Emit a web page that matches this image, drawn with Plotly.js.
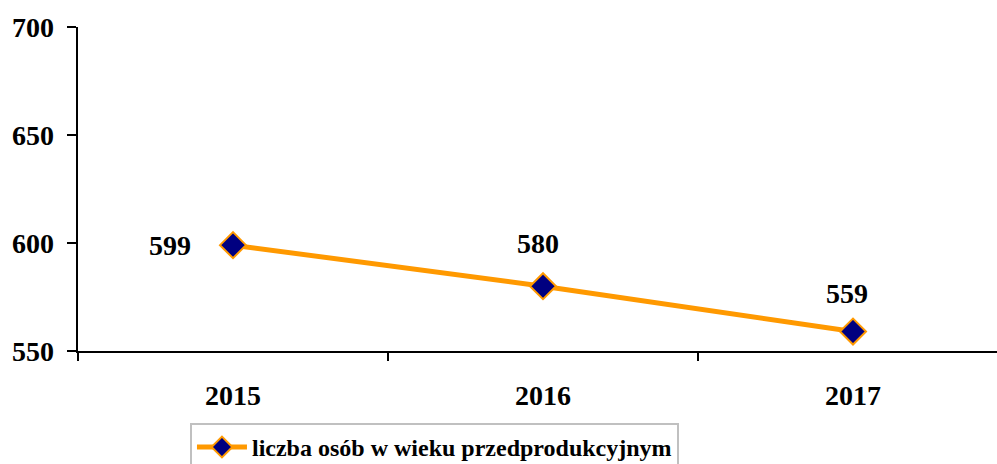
<!DOCTYPE html>
<html>
<head>
<meta charset="utf-8">
<script src="https://cdn.plot.ly/plotly-3.0.1.min.js"></script>
<style>html,body{margin:0;padding:0;overflow:hidden;background:#fff;}</style>
</head>
<body>
<div id="chart"></div>
<script>
const years = ['2015', '2016', '2017'];
const values = [599, 580, 559];
const seriesName = 'liczba osób w wieku przedprodukcyjnym';
const yTicks = [550, 600, 650, 700];

const labelXShift = [-63, -5, -6];
const labelYShift = [0, 43, 38];

const FAM = 'Liberation Serif';
const boldFont = (s) => ({family: FAM, size: s, color: '#000', weight: 'bold'});
const b = (t) => '<b>' + t + '</b>';

const trace = {
  x: years, y: values, type: 'scatter', mode: 'lines+markers', name: b(seriesName),
  line: {color: '#FF9900', width: 5},
  marker: {symbol: 'diamond', size: 20, color: '#000080', line: {color: '#FF9900', width: 2}},
  cliponaxis: false
};

const pointLabels = years.map((yr, i) => ({
  xref: 'x', yref: 'y',
  x: i, y: values[i], text: b(String(values[i])), showarrow: false,
  xshift: labelXShift[i], yshift: labelYShift[i],
  font: boldFont(28)
}));

const yTickLabels = yTicks.map(v => ({
  xref: 'paper', yref: 'y', x: 0, y: v, xanchor: 'right', yanchor: 'middle',
  xshift: -22, text: b(String(v)), showarrow: false, font: boldFont(28)
}));

const layout = {
  width: 1010, height: 464,
  margin: {l: 78, r: 2, t: 27, b: 113, autoexpand: false},
  paper_bgcolor: '#fff', plot_bgcolor: '#fff',
  showlegend: true,
  font: boldFont(28),
  xaxis: {
    type: 'category', range: [-0.5, 2.5], showgrid: false, zeroline: false,
    tickvals: years, ticktext: years.map(b),
    showline: true, linecolor: '#000', linewidth: 2,
    ticks: 'outside', tickson: 'boundaries', ticklen: 8, tickwidth: 2, tickcolor: '#000',
    ticklabelstandoff: 18,
    tickfont: boldFont(28)
  },
  yaxis: {
    range: [550, 700], tickvals: yTicks, showticklabels: false,
    showgrid: false, zeroline: false,
    showline: true, linecolor: '#000', linewidth: 2,
    ticks: 'outside', ticklen: 9, tickwidth: 2, tickcolor: '#000'
  },
  legend: {
    orientation: 'h', x: 0.1204, xanchor: 'left', y: -0.222, yanchor: 'top',
    bordercolor: '#c0c0c0', borderwidth: 2, bgcolor: '#fff',
    itemwidth: 50,
    font: boldFont(24)
  },
  annotations: pointLabels.concat(yTickLabels)
};

Plotly.newPlot('chart', [trace], layout, {displayModeBar: false, staticPlot: true});
</script>
</body>
</html>
